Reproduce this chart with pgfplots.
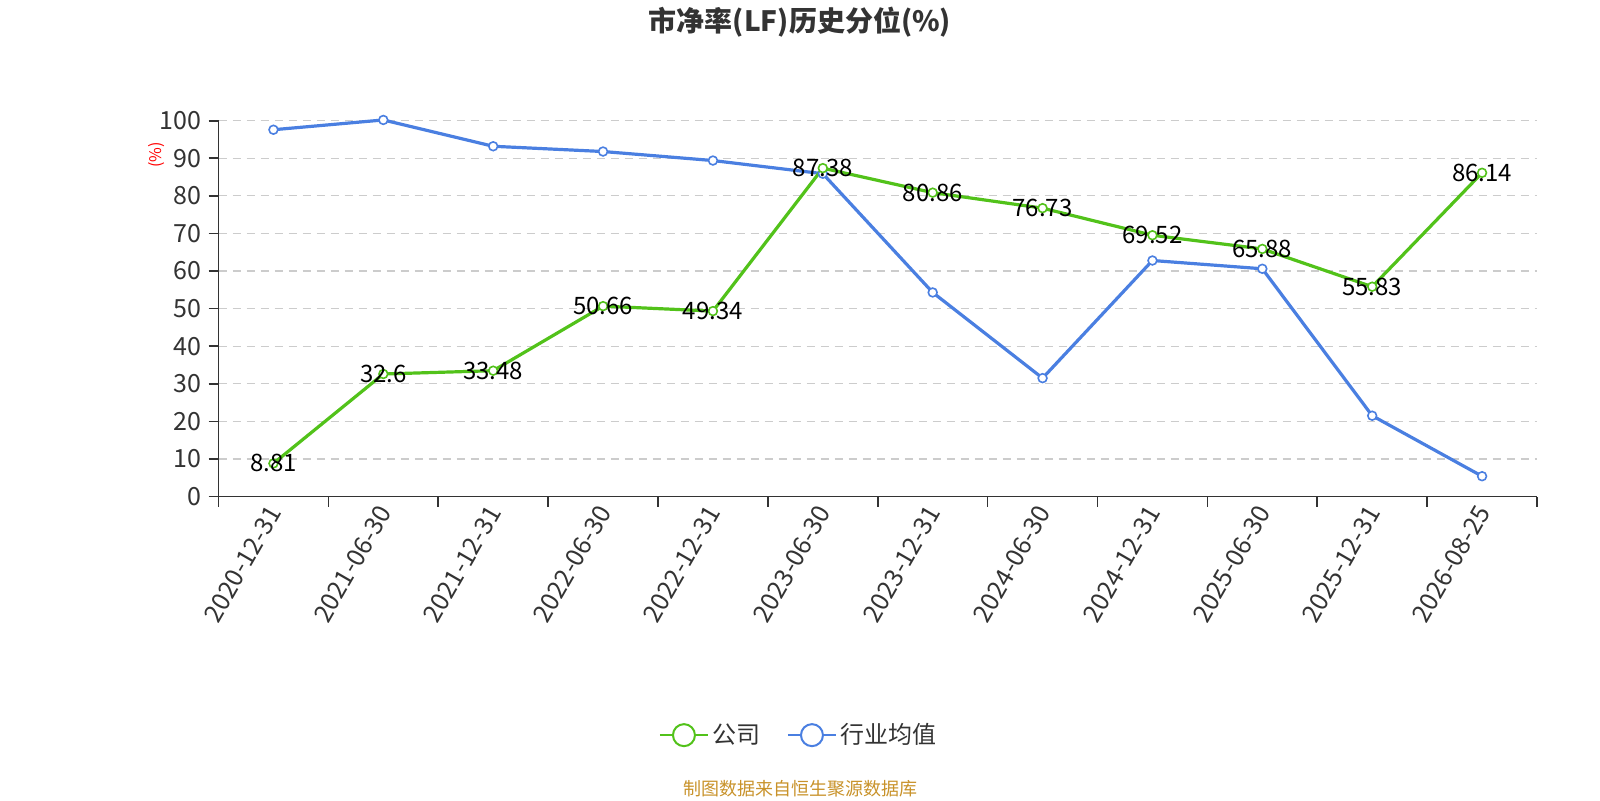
\documentclass[border=0pt]{standalone}
\usepackage{pgfplots}
\pgfplotsset{compat=1.18}
\usepackage{fontspec}
\setmainfont{Noto Sans CJK SC}
\definecolor{cgreen}{RGB}{82,194,26}
\definecolor{cblue}{RGB}{74,127,225}
\definecolor{ctext}{RGB}{51,51,51}
\definecolor{cgrid}{RGB}{204,204,204}
\definecolor{cfoot}{RGB}{200,146,42}
\begin{document}
\begin{tikzpicture}
\begin{axis}[
  at={(109.25pt,-248.25pt)}, anchor=south west,
  scale only axis, width=659.25pt, height=187.9pt,
  xmin=-0.5, xmax=11.5, ymin=0, ymax=100,
  axis x line=bottom, axis y line=left,
  axis line style={-, draw=ctext, line width=0.8pt},
  xtick={0,...,11},
  xticklabels={2020-12-31,2021-06-30,2021-12-31,2022-06-30,2022-12-31,2023-06-30,2023-12-31,2024-06-30,2024-12-31,2025-06-30,2025-12-31,2026-08-25},
  major x tick style={draw=none},
  minor xtick={-0.5,0.5,...,11.5},
  minor x tick style={draw=ctext, line width=0.8pt},
  minor tick length=5pt,
  major tick length=5pt,
  tick align=outside,
  ytick={0,10,...,100},
  y tick style={draw=ctext, line width=0.8pt},
  ymajorgrids,
  grid style={cgrid, dash pattern=on 4pt off 3pt, line width=0.6pt},
  tick label style={font=\fontsize{12.5}{12.5}\selectfont, text=ctext},
  x tick label style={rotate=60, anchor=east, xshift=3pt, yshift=-1pt},
  /pgf/number format/assume math mode=true,
  clip=false,
  reverse legend,
  legend cell align=left,
  legend style={draw=none, fill=none, legend columns=-1,
    at={(0.441,-0.635)}, anchor=center,
    font=\fontsize{12}{12}\selectfont, text=ctext,
    /tikz/every even column/.append style={column sep=11pt}},
  legend image code/.code={
    \draw[#1, line width=1pt] (0pt,0pt) -- (24pt,0pt);
    \draw[#1, fill=white, line width=1pt] (12pt,0pt) circle (5.5pt);
  },
]
\addplot[cblue, line width=1.6pt, mark=*, mark size=2.2pt,
  mark options={fill=white, draw=cblue, line width=0.8pt}]
  coordinates {(0,97.6) (1,100.2) (2,93.2) (3,91.8) (4,89.4) (5,85.9)
               (6,54.3) (7,31.5) (8,62.8) (9,60.6) (10,21.5) (11,5.4)};
\addlegendentry{行业均值}
\addplot[cgreen, line width=1.6pt, mark=*, mark size=2.2pt,
  mark options={fill=white, draw=cgreen, line width=0.8pt},
  point meta=explicit symbolic,
  nodes near coords,
  every node near coord/.style={anchor=center, text=black, font=\fontsize{12}{12}\selectfont}]
  coordinates {(0,8.81) [8.81] (1,32.6) [32.6] (2,33.48) [33.48] (3,50.66) [50.66]
               (4,49.34) [49.34] (5,87.38) [87.38] (6,80.86) [80.86] (7,76.73) [76.73]
               (8,69.52) [69.52] (9,65.88) [65.88] (10,55.83) [55.83] (11,86.14) [86.14]};
\addlegendentry{公司}
\end{axis}
\node[font=\bfseries\fontsize{14}{14}\selectfont, text=ctext] at (400pt,-11pt) {市净率(LF)历史分位(\%)};
\node[font=\fontsize{9}{9}\selectfont, text=cfoot] at (400pt,-394.5pt) {制图数据来自恒生聚源数据库};
\node[rotate=90, text=red, font=\fontsize{8}{8}\selectfont] at (78.5pt,-77.5pt) {(\%)};
\pgfresetboundingbox
\path[use as bounding box] (0pt,0pt) rectangle (800pt,-400pt);
\end{tikzpicture}
\end{document}
